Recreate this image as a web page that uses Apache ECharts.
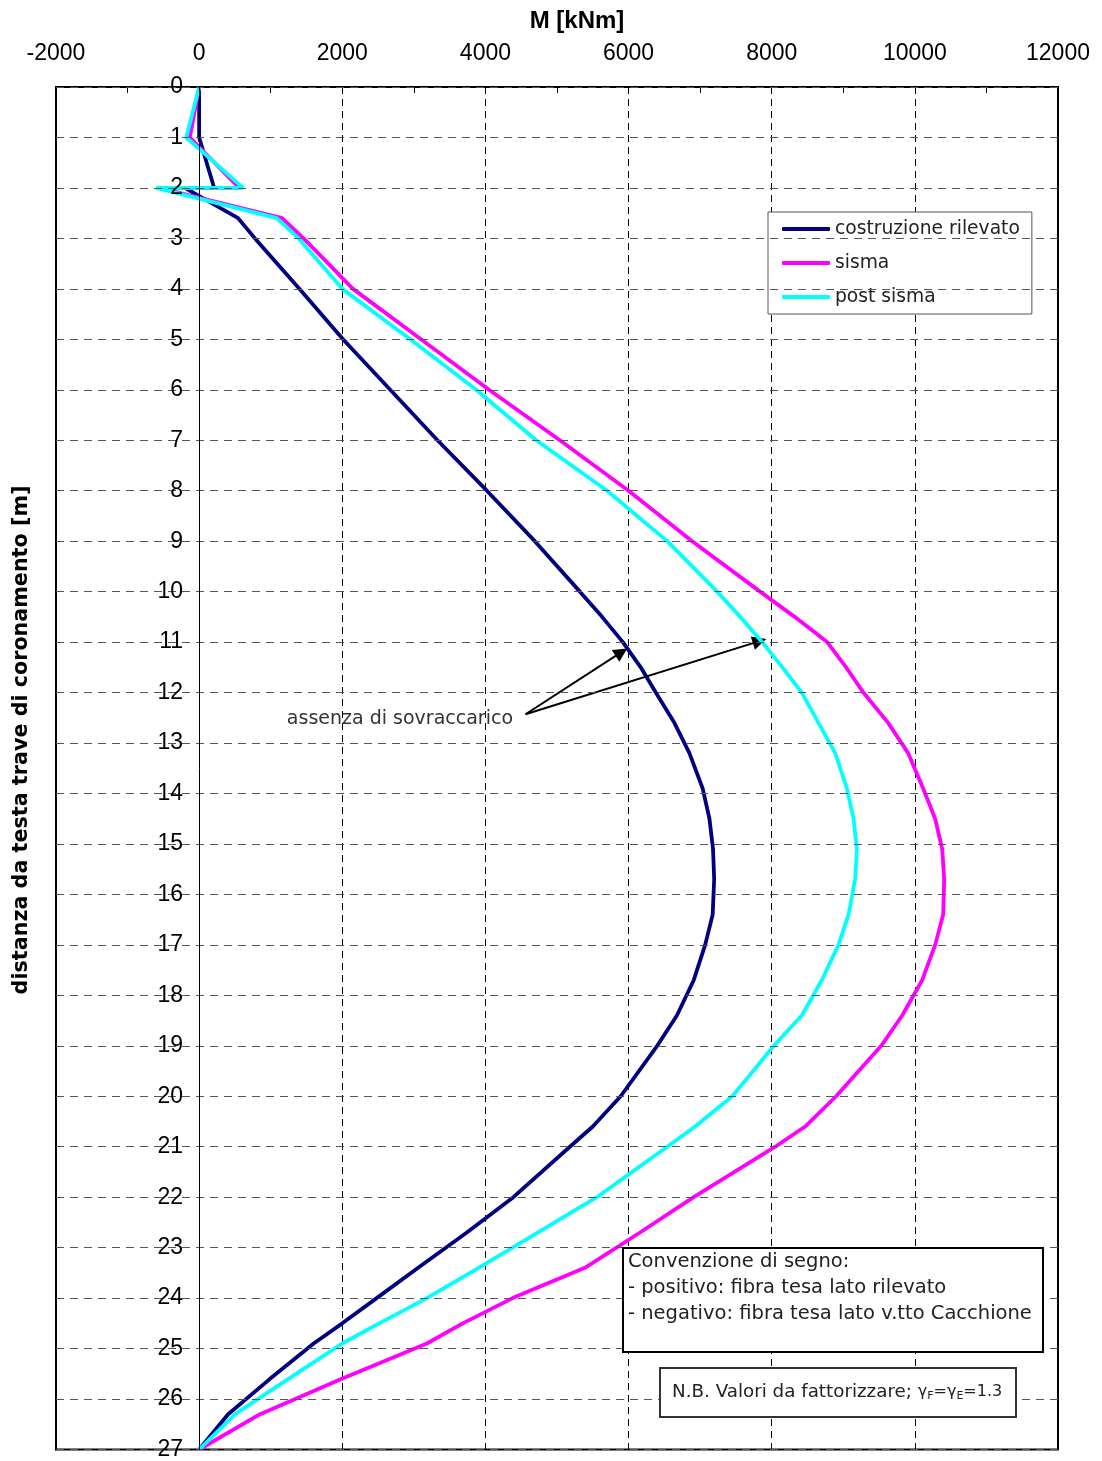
<!DOCTYPE html>
<html><head><meta charset="utf-8">
<script src="https://cdn.jsdelivr.net/npm/echarts@6/dist/echarts.min.js"></script>
<style>html,body{margin:0;padding:0;background:#fff}#c{width:1102px;height:1461px}</style>
</head><body><div id="c"></div>
<script>
// depth below the capping beam [m]
const depth = [0, 1, 2, 2, 2.6, 3, 4, 5, 6, 7, 8, 9, 10, 10.5, 11, 11.5, 12, 12.6, 13.2, 13.9, 14.5, 15.1, 15.7, 16.4, 17, 17.7, 18.4, 19, 20, 20.6, 21, 22, 22.7, 23.4, 24, 24.5, 24.9, 25.6, 26.3, 27];
// bending moment M [kNm]
const mCostruzione = [0, 0, 210, -200, 545, 780, 1400, 2010, 2670, 3330, 4020, 4690, 5320, 5630, 5920, 6170, 6380, 6640, 6850, 7035, 7130, 7180, 7196, 7175, 7070, 6910, 6675, 6400, 5890, 5500, 5180, 4390, 3740, 3060, 2480, 2000, 1600, 990, 405, 0];
const mSisma = [0, -130, 560, -560, 1160, 1460, 2150, 3100, 4050, 5040, 6000, 6888, 7838, 8320, 8775, 9040, 9280, 9627, 9906, 10116, 10284, 10382, 10410, 10396, 10284, 10102, 9823, 9530, 8900, 8467, 8050, 6910, 6160, 5390, 4380, 3683, 3182, 1994, 852, 0];
const mPostSisma = [0, -180, 615, -600, 1085, 1390, 2000, 2950, 3870, 4710, 5700, 6539, 7238, 7560, 7866, 8150, 8420, 8653, 8887, 9050, 9143, 9190, 9166, 9073, 8933, 8700, 8420, 8030, 7450, 6930, 6540, 5557, 4730, 3906, 3182, 2514, 2000, 1248, 503, 0];
const seriesNames = ['costruzione rilevato', 'sisma', 'post sisma'];
const xRange = { min: -2000, max: 12000, interval: 2000 };
const yRange = { min: 0, max: 27, interval: 1 };
// annotation arrows (data coordinates)
const arrowFrom = [4560, 12.43];
const arrowTargets = [[5900, 11.2], [7830, 10.98]];

function pairs(vals) { return vals.map((v, i) => [v, depth[i]]); }

const TXT = 'DejaVu Sans';
const AX = 'Liberation Sans';
const GRID_LEFT = 56;
const chart = echarts.init(document.getElementById('c'), null, { renderer: 'canvas' });
const option = {
  animation: false,
  backgroundColor: '#fff',
  grid: { left: GRID_LEFT, right: 44, top: 87, bottom: 8, show: true, borderColor: '#000', borderWidth: 2, backgroundColor: 'transparent' },
  xAxis: {
    type: 'value', position: 'top', min: xRange.min, max: xRange.max, interval: xRange.interval,
    axisLine: { onZero: false, lineStyle: { color: '#000', width: 2 } },
    axisTick: { show: true, inside: true, length: 6, lineStyle: { color: '#000', width: 1 } },
    minorTick: { show: true, splitNumber: 2, length: 6, lineStyle: { color: '#000', width: 1 } },
    axisLabel: { fontFamily: AX, fontSize: 23, color: '#000', margin: 22, formatter: v => String(v) },
    splitLine: { show: true, lineStyle: { color: '#000', width: 1, type: [7, 5] } }
  },
  yAxis: [
    {
      type: 'value', inverse: true, min: yRange.min, max: yRange.max, interval: yRange.interval, position: 'left',
      axisLine: { onZero: false, lineStyle: { color: '#000', width: 1 } },
      axisTick: { show: false },
      axisLabel: { fontFamily: AX, fontSize: 23, color: '#000', margin: 16, formatter: v => String(v) },
      splitLine: { show: true, lineStyle: { color: '#555', width: 1, type: [8, 6] } },
      z: 6
    },
    {
      type: 'value', inverse: true, min: yRange.min, max: yRange.max, interval: yRange.interval, position: 'left',
      axisLine: { onZero: false, lineStyle: { color: '#000', width: 2 } },
      axisTick: { show: true, inside: true, length: 6, lineStyle: { color: '#000' } },
      axisLabel: { show: false },
      splitLine: { show: false }
    }
  ],
  legend: {
    orient: 'vertical', left: 768, top: 212, padding: [7, 12, 7, 14], itemGap: 14,
    itemWidth: 48, itemHeight: 4, icon: 'roundRect',
    backgroundColor: '#fff', borderColor: '#555', borderWidth: 1,
    textStyle: { fontFamily: TXT, fontSize: 18.7, color: '#222', lineHeight: 20 },
    data: seriesNames
  },
  series: [
    { name: seriesNames[0], type: 'line', data: pairs(mCostruzione), symbol: 'none', lineStyle: { color: '#000080', width: 3.8 }, itemStyle: { color: '#000080' }, z: 3 },
    { name: seriesNames[1], type: 'line', data: pairs(mSisma), symbol: 'none', lineStyle: { color: '#FF00FF', width: 3.8 }, itemStyle: { color: '#FF00FF' }, z: 4 },
    {
      name: seriesNames[2], type: 'line', data: pairs(mPostSisma), symbol: 'none', lineStyle: { color: '#00FFFF', width: 3.8 }, itemStyle: { color: '#00FFFF' }, z: 5,
      markLine: {
        silent: true, symbol: ['none', 'triangle'], symbolSize: 14,
        lineStyle: { color: '#000', width: 2, type: 'solid' }, label: { show: false },
        emphasis: { disabled: true },
        data: arrowTargets.map(t => [{ coord: arrowFrom }, { coord: t }])
      }
    }
  ],
  graphic: [
    { type: 'text', z: 100, x: 577, y: 21, style: { text: 'M [kNm]', font: 'bold 24px "Liberation Sans"', fill: '#000', align: 'center', verticalAlign: 'middle' } },
    { type: 'text', z: 100, x: 22, y: 740, rotation: Math.PI / 2, style: { text: 'distanza da testa trave di coronamento [m]', font: 'bold 20.7px "DejaVu Sans"', fill: '#000', align: 'center', verticalAlign: 'middle' } },
    { type: 'text', z: 100, x: 513, y: 719, style: { text: 'assenza di sovraccarico', font: '19px "DejaVu Sans"', fill: '#333', align: 'right', verticalAlign: 'middle' } },
    { type: 'rect', z: 100, shape: { x: 623, y: 1248, width: 420, height: 104 }, style: { fill: '#fff', stroke: '#000', lineWidth: 2 } },
    { type: 'text', z: 101, x: 628, y: 1262, style: { text: 'Convenzione di segno:', font: '19.5px "DejaVu Sans"', fill: '#222', verticalAlign: 'middle' } },
    { type: 'text', z: 101, x: 628, y: 1288, style: { text: '- positivo: fibra tesa lato rilevato', font: '19.5px "DejaVu Sans"', fill: '#222', verticalAlign: 'middle' } },
    { type: 'text', z: 101, x: 628, y: 1314, style: { text: '- negativo: fibra tesa lato v.tto Cacchione', font: '19.5px "DejaVu Sans"', fill: '#222', verticalAlign: 'middle' } },
    { type: 'rect', z: 100, shape: { x: 660, y: 1368, width: 356, height: 49 }, style: { fill: '#fff', stroke: '#333', lineWidth: 2 } },
    {
      type: 'text', z: 101, x: 672, y: 1392,
      style: {
        text: 'N.B. Valori da fattorizzare; {g|γ}{s|F}{g|=γ}{s|E}{g|=1.3}',
        font: '18.3px "DejaVu Sans"', fill: '#222', verticalAlign: 'middle',
        rich: {
          g: { fontFamily: 'DejaVu Sans', fontSize: 16, fill: '#222' },
          s: { fontFamily: 'DejaVu Sans', fontSize: 11, fill: '#222', verticalAlign: 'bottom', padding: [8, 0, 0, 0] }
        }
      }
    }
  ]
};
chart.setOption(option);
// move the labelled depth axis onto M = 0 (as the vertical axis crosses at zero)
const px0 = chart.convertToPixel({ xAxisIndex: 0 }, 0);
chart.setOption({ yAxis: [{ offset: -(px0 - GRID_LEFT) }, {}] });
</script>
</body></html>
